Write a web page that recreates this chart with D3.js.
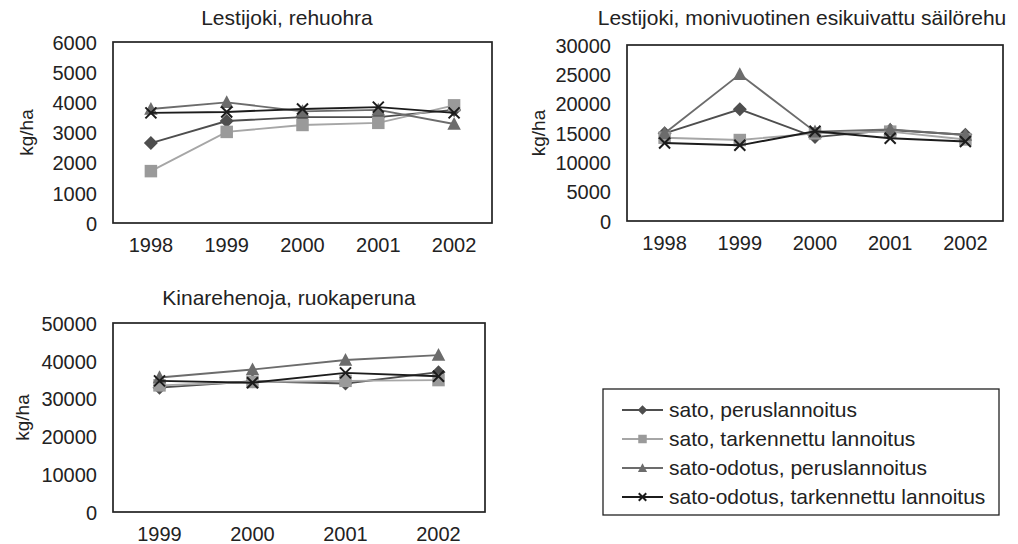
<!DOCTYPE html>
<html>
<head>
<meta charset="utf-8">
<script src="https://cdn.jsdelivr.net/npm/d3@7"></script>
<style>
  html, body { margin: 0; padding: 0; background: #fff; }
  svg { display: block; }
  svg text { font-family: "Liberation Sans", Arial, sans-serif; }
</style>
</head>
<body>
<svg id="chart" width="1018" height="544"></svg>
<script>
// Series names (legend order)
const seriesNames = [
  "sato, peruslannoitus",
  "sato, tarkennettu lannoitus",
  "sato-odotus, peruslannoitus",
  "sato-odotus, tarkennettu lannoitus"
];

// Lestijoki, rehuohra (kg/ha)
const years1 = ["1998", "1999", "2000", "2001", "2002"];
const rehuohraSato = [2650, 3380, 3510, 3510, 3750];
const rehuohraSatoTark = [1720, 3020, 3250, 3320, 3900];
const rehuohraOdotus = [3780, 4000, 3700, 3750, 3280];
const rehuohraOdotusTark = [3650, 3680, 3780, 3840, 3650];
const ticks1 = [0, 1000, 2000, 3000, 4000, 5000, 6000];

// Lestijoki, monivuotinen esikuivattu säilörehu (kg/ha)
const years2 = ["1998", "1999", "2000", "2001", "2002"];
const rehuSato = [14940, 19030, 14300, 15500, 14700];
const rehuSatoTark = [14200, 13800, 14940, 15230, 13900];
const rehuOdotus = [14940, 25000, 15230, 15600, 14660];
const rehuOdotusTark = [13300, 12900, 15300, 14100, 13550];
const ticks2 = [0, 5000, 10000, 15000, 20000, 25000, 30000];

// Kinarehenoja, ruokaperuna (kg/ha)
const years3 = ["1999", "2000", "2001", "2002"];
const perunaSato = [32900, 34600, 34000, 37000];
const perunaSatoTark = [33500, 34400, 34700, 34900];
const perunaOdotus = [35600, 37700, 40200, 41500];
const perunaOdotusTark = [34700, 34200, 36800, 35900];
const ticks3 = [0, 10000, 20000, 30000, 40000, 50000];

// Marker shapes; size = full width in px
const diamond = { draw(ctx, s) { const r = s / 2; ctx.moveTo(0, -r); ctx.lineTo(r, 0); ctx.lineTo(0, r); ctx.lineTo(-r, 0); ctx.closePath(); } };
const square = { draw(ctx, s) { const r = s / 2; ctx.rect(-r, -r, s, s); } };
const triangle = { draw(ctx, s) { const r = s / 2; ctx.moveTo(0, -r * 1.05); ctx.lineTo(r, r * 0.85); ctx.lineTo(-r, r * 0.85); ctx.closePath(); } };
const cross = { draw(ctx, s) { const r = s / 2; ctx.moveTo(-r, -r); ctx.lineTo(r, r); ctx.moveTo(r, -r); ctx.lineTo(-r, r); } };

const styles = [
  { line: "#4e4e4e", fill: "#4e4e4e", sym: diamond, size: 14, stroke: false },
  { line: "#a6a6a6", fill: "#9a9a9a", sym: square, size: 12.5, stroke: false },
  { line: "#6c6c6c", fill: "#6c6c6c", sym: triangle, size: 13.5, stroke: false },
  { line: "#1c1c1c", fill: "none", sym: cross, size: 11, stroke: true }
];

const svg = d3.select("#chart");
const TICK = 20;
const TEXT = 21;
const INK = "#222";

function marker(sel, st, size) {
  sel.attr("d", d3.symbol().type(st.sym).size(size))
    .attr("fill", st.fill)
    .attr("stroke", st.stroke ? st.line : "none")
    .attr("stroke-width", 2);
}

function panel(cfg) {
  const x = d3.scaleBand().domain(cfg.cats).range([cfg.x0, cfg.x1]);
  const y = d3.scaleLinear().domain([0, cfg.max]).range([cfg.y1, cfg.y0]);
  const g = svg.append("g");

  // Title
  g.append("text")
    .attr("x", cfg.titleX).attr("y", cfg.titleY)
    .attr("text-anchor", "middle")
    .attr("font-size", TEXT).attr("fill", INK)
    .text(cfg.title);

  // Plot frame
  g.append("rect")
    .attr("x", cfg.x0).attr("y", cfg.y0)
    .attr("width", cfg.x1 - cfg.x0).attr("height", cfg.y1 - cfg.y0)
    .attr("fill", "none").attr("stroke", INK).attr("stroke-width", 1.7);

  // Y axis labels
  const ya = g.append("g")
    .attr("transform", `translate(${cfg.x0 - 16},0)`)
    .call(d3.axisLeft(y).tickValues(cfg.ticks).tickSize(0).tickPadding(0).tickFormat(d3.format("d")));
  ya.attr("font-family", null).attr("font-size", null);
  ya.select(".domain").remove();
  ya.selectAll("text").attr("font-size", TICK).attr("fill", INK).attr("dy", "0.36em");

  // X axis labels
  const xa = g.append("g")
    .attr("transform", `translate(0,${cfg.y1 + 29})`)
    .call(d3.axisBottom(x).tickSize(0).tickPadding(0));
  xa.attr("font-family", null).attr("font-size", null);
  xa.select(".domain").remove();
  xa.selectAll("text").attr("font-size", TICK).attr("fill", INK).attr("dy", 0).attr("y", 0);

  // Y axis title
  g.append("text")
    .attr("transform", `translate(${cfg.labelX},${(cfg.y0 + cfg.y1) / 2}) rotate(-90)`)
    .attr("text-anchor", "middle").attr("dy", "0.35em")
    .attr("font-size", 19).attr("fill", INK)
    .text("kg/ha");

  const cx = c => x(c) + x.bandwidth() / 2;
  const line = d3.line().x((d, i) => cx(cfg.cats[i])).y(d => y(d));

  cfg.series.forEach((vals, si) => {
    const st = styles[si];
    g.append("path")
      .attr("d", line(vals))
      .attr("fill", "none").attr("stroke", st.line).attr("stroke-width", 1.9);
    g.selectAll(null).data(vals).enter().append("path")
      .attr("transform", (d, i) => `translate(${cx(cfg.cats[i])},${y(d)})`)
      .call(marker, st, st.size);
  });
}

panel({
  title: "Lestijoki, rehuohra", titleX: 287, titleY: 25,
  cats: years1, max: 6000, ticks: ticks1,
  x0: 113, x1: 492, y0: 42, y1: 223, labelX: 26,
  series: [rehuohraSato, rehuohraSatoTark, rehuohraOdotus, rehuohraOdotusTark]
});

panel({
  title: "Lestijoki, monivuotinen esikuivattu säilörehu", titleX: 802, titleY: 25,
  cats: years2, max: 30000, ticks: ticks2,
  x0: 627, x1: 1003, y0: 45, y1: 221, labelX: 538,
  series: [rehuSato, rehuSatoTark, rehuOdotus, rehuOdotusTark]
});

panel({
  title: "Kinarehenoja, ruokaperuna", titleX: 289, titleY: 305,
  cats: years3, max: 50000, ticks: ticks3,
  x0: 113, x1: 485, y0: 323, y1: 512, labelX: 22,
  series: [perunaSato, perunaSatoTark, perunaOdotus, perunaOdotusTark]
});

// Legend
const lg = svg.append("g");
lg.append("rect")
  .attr("x", 603).attr("y", 389).attr("width", 396).attr("height", 126)
  .attr("fill", "#fff").attr("stroke", INK).attr("stroke-width", 1.3);
const ly = d3.scalePoint().domain(seriesNames).range([410, 497]);
seriesNames.forEach((name, i) => {
  const st = styles[i];
  const yy = ly(name);
  lg.append("line").attr("x1", 622).attr("x2", 663).attr("y1", yy).attr("y2", yy)
    .attr("stroke", st.line).attr("stroke-width", 1.8);
  lg.append("path")
    .attr("transform", `translate(642.5,${yy})`)
    .call(marker, st, st.size * 0.68);
  lg.append("text").attr("x", 669).attr("y", yy).attr("dy", "0.35em")
    .attr("font-size", TEXT).attr("fill", INK).text(name);
});
</script>
</body>
</html>
